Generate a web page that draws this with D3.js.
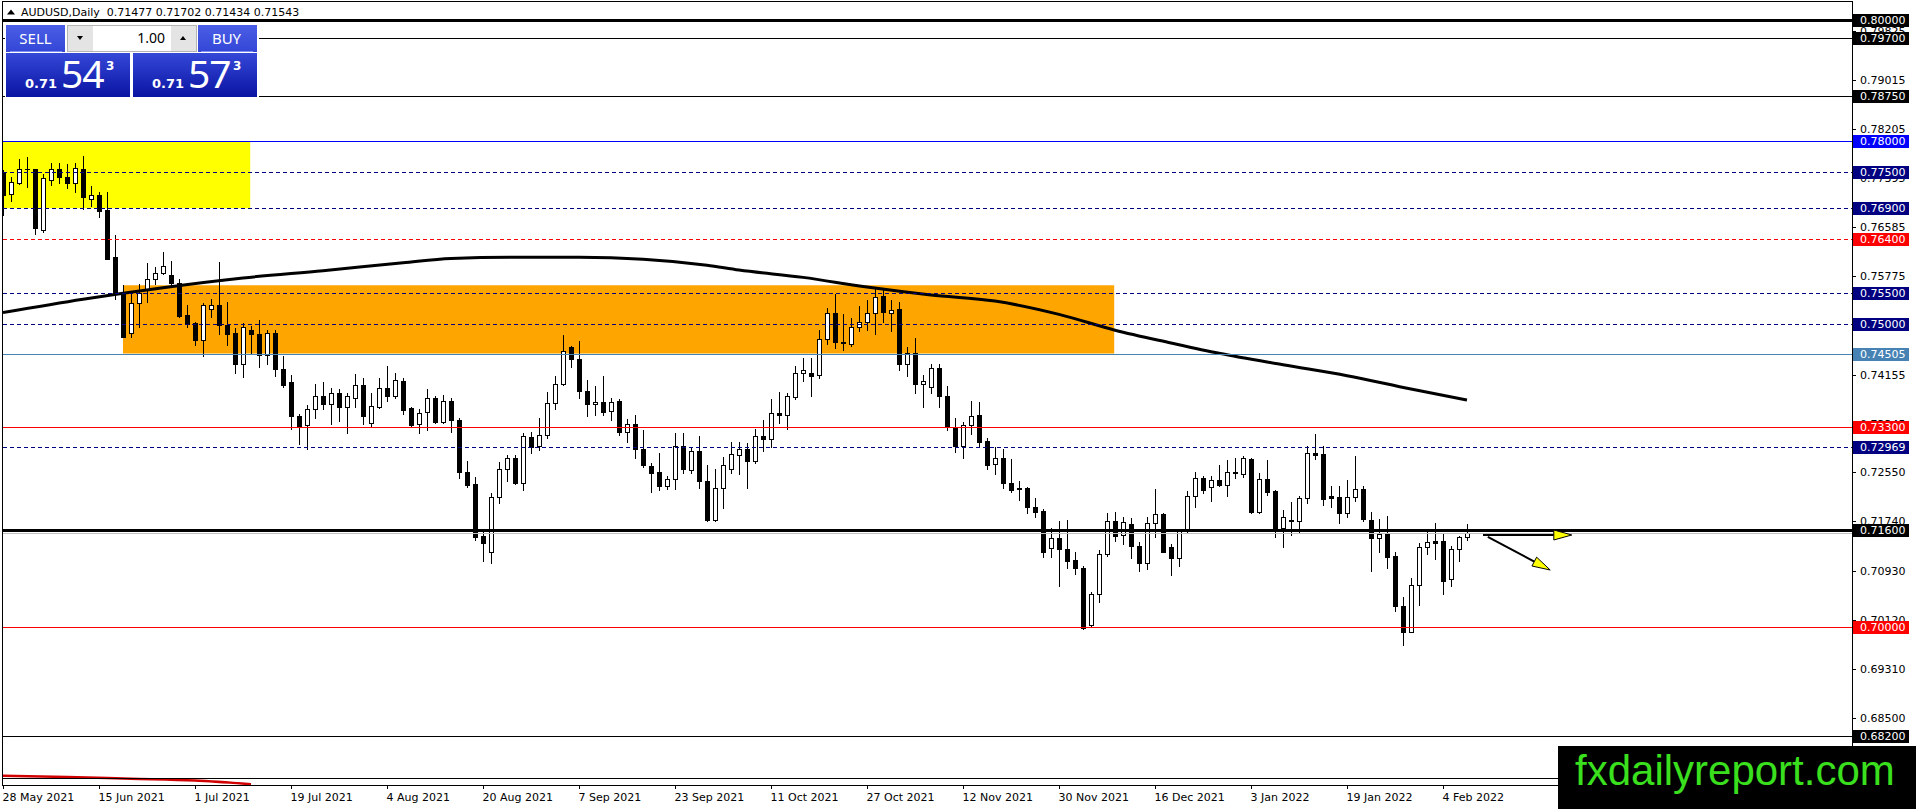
<!DOCTYPE html>
<html>
<head>
<meta charset="utf-8">
<script src="https://cdnjs.cloudflare.com/ajax/libs/d3/7.8.5/d3.min.js"></script>
<style>
  html, body { margin: 0; padding: 0; background: #fff; }
  svg { display: block; }
  text { font-family: "DejaVu Sans", sans-serif; }
</style>
</head>
<body>
<svg id="chart" width="1916" height="809"></svg>
<script>
// ---- data ----
var symbolTitle = "AUDUSD,Daily  0.71477 0.71702 0.71434 0.71543";

// daily bars, weekdays from 28 May 2021 to 9 Feb 2022 (index = bar number)
var opens = [0.7750,0.7713,0.7732,0.7754,0.7754,0.7654,0.7736,0.7754,0.7742,0.7731,
  0.7754,0.7705,0.7712,0.7687,0.7609,0.7552,0.7484,0.7534,0.7555,0.7574,
  0.7583,0.7580,0.7567,0.7514,0.7501,0.7472,0.7524,0.7531,0.7498,0.7484,
  0.7433,0.7489,0.7482,0.7448,0.7484,0.7425,0.7403,0.7348,0.7332,0.7359,
  0.7381,0.7367,0.7385,0.7363,0.7378,0.7399,0.7336,0.7363,0.7393,0.7381,
  0.7405,0.7360,0.7334,0.7354,0.7377,0.7338,0.7372,0.7341,0.7256,0.7236,
  0.7150,0.7123,0.7214,0.7260,0.7278,0.7238,0.7313,0.7298,0.7316,0.7369,
  0.7401,0.7461,0.7441,0.7389,0.7367,0.7370,0.7356,0.7372,0.7322,0.7335,
  0.7293,0.7265,0.7255,0.7233,0.7244,0.7298,0.7258,0.7290,0.7241,0.7177,
  0.7229,0.7261,0.7283,0.7293,0.7274,0.7315,0.7309,0.7352,0.7350,0.7379,
  0.7418,0.7418,0.7415,0.7474,0.7518,0.7470,0.7467,0.7494,0.7503,0.7518,
  0.7545,0.7517,0.7524,0.7433,0.7451,0.7401,0.7395,0.7426,0.7380,0.7330,
  0.7298,0.7333,0.7349,0.7307,0.7268,0.7278,0.7237,0.7229,0.7229,0.7198,
  0.7191,0.7130,0.7146,0.7128,0.7110,0.7097,0.7003,0.7054,0.7120,0.7175,
  0.7151,0.7169,0.7134,0.7106,0.7171,0.7186,0.7132,0.7113,0.7158,0.7216,
  0.7245,0.7230,0.7242,0.7234,0.7255,0.7252,0.7277,0.7190,0.7243,0.7224,
  0.7163,0.7176,0.7175,0.7212,0.7286,0.7285,0.7215,0.7214,0.7187,0.7214,
  0.7228,0.7176,0.7146,0.7154,0.7117,0.7035,0.6992,0.7070,0.7131,0.7141,
  0.7142,0.7079,0.7128,0.71477];
var highs = [0.7753,0.7742,0.7771,0.7775,0.7754,0.7747,0.7765,0.7764,0.7763,0.7764,
  0.7776,0.7727,0.7717,0.7717,0.7646,0.7563,0.7549,0.7565,0.7599,0.7593,
  0.7617,0.7603,0.7573,0.7531,0.7503,0.7533,0.7540,0.7601,0.7536,0.7492,
  0.7501,0.7496,0.7505,0.7489,0.7490,0.7447,0.7415,0.7351,0.7366,0.7400,
  0.7403,0.7393,0.7392,0.7385,0.7416,0.7410,0.7385,0.7411,0.7430,0.7418,
  0.7410,0.7363,0.7359,0.7392,0.7381,0.7383,0.7377,0.7344,0.7274,0.7247,
  0.7157,0.7221,0.7272,0.7283,0.7283,0.7320,0.7321,0.7344,0.7387,0.7414,
  0.7481,0.7463,0.7471,0.7407,0.7397,0.7414,0.7378,0.7375,0.7342,0.7350,
  0.7325,0.7271,0.7286,0.7248,0.7319,0.7319,0.7297,0.7315,0.7267,0.7260,
  0.7280,0.7305,0.7305,0.7303,0.7327,0.7341,0.7375,0.7387,0.7386,0.7430,
  0.7443,0.7443,0.7489,0.7526,0.7548,0.7515,0.7509,0.7529,0.7539,0.7558,
  0.7558,0.7539,0.7536,0.7462,0.7476,0.7415,0.7434,0.7434,0.7397,0.7344,
  0.7338,0.7373,0.7370,0.7311,0.7297,0.7294,0.7276,0.7241,0.7231,0.7212,
  0.7194,0.7163,0.7175,0.7176,0.7123,0.7101,0.7057,0.7127,0.7187,0.7190,
  0.7181,0.7179,0.7140,0.7182,0.7227,0.7187,0.7136,0.7160,0.7224,0.7256,
  0.7249,0.7249,0.7267,0.7275,0.7278,0.7282,0.7278,0.7253,0.7275,0.7226,
  0.7192,0.7206,0.7216,0.7298,0.7318,0.7298,0.7232,0.7232,0.7242,0.7281,
  0.7233,0.7190,0.7178,0.7183,0.7124,0.7049,0.7080,0.7138,0.7158,0.7171,
  0.7155,0.7134,0.7150,0.71702];
var lows = [0.7679,0.7701,0.7730,0.7725,0.7647,0.7651,0.7728,0.7732,0.7724,0.7717,
  0.7688,0.7694,0.7675,0.7606,0.7541,0.7477,0.7478,0.7495,0.7536,0.7565,
  0.7582,0.7561,0.7510,0.7495,0.7464,0.7447,0.7511,0.7483,0.7465,0.7418,
  0.7412,0.7451,0.7429,0.7434,0.7413,0.7396,0.7326,0.7302,0.7293,0.7344,
  0.7359,0.7334,0.7340,0.7320,0.7362,0.7335,0.7331,0.7360,0.7373,0.7377,
  0.7351,0.7330,0.7319,0.7325,0.7336,0.7336,0.7322,0.7246,0.7231,0.7143,
  0.7109,0.7106,0.7204,0.7240,0.7236,0.7225,0.7287,0.7291,0.7311,0.7359,
  0.7398,0.7429,0.7378,0.7348,0.7350,0.7350,0.7341,0.7316,0.7304,0.7278,
  0.7263,0.7223,0.7225,0.7227,0.7227,0.7253,0.7253,0.7229,0.7174,0.7175,
  0.7196,0.7254,0.7252,0.7229,0.7271,0.7290,0.7296,0.7336,0.7327,0.7375,
  0.7406,0.7381,0.7410,0.7467,0.7460,0.7456,0.7463,0.7487,0.7489,0.7482,
  0.7503,0.7488,0.7423,0.7413,0.7386,0.7363,0.7386,0.7363,0.7324,0.7289,
  0.7279,0.7318,0.7296,0.7261,0.7252,0.7229,0.7223,0.7210,0.7187,0.7182,
  0.7116,0.7116,0.7067,0.7098,0.7088,0.6996,0.7002,0.7042,0.7117,0.7141,
  0.7136,0.7114,0.7093,0.7095,0.7149,0.7124,0.7086,0.7101,0.7155,0.7198,
  0.7221,0.7208,0.7232,0.7216,0.7246,0.7247,0.7187,0.7188,0.7217,0.7149,
  0.7132,0.7152,0.7157,0.7204,0.7276,0.7201,0.7198,0.7172,0.7181,0.7208,
  0.7174,0.7093,0.7124,0.7098,0.7027,0.6970,0.6991,0.7036,0.7120,0.7112,
  0.7054,0.7068,0.7109,0.71434];
var closes = [0.7712,0.7733,0.7754,0.7754,0.7657,0.7739,0.7754,0.7742,0.7731,0.7756,
  0.7708,0.7712,0.7686,0.7607,0.7549,0.7478,0.7534,0.7551,0.7574,0.7583,
  0.7595,0.7567,0.7512,0.7500,0.7472,0.7531,0.7531,0.7497,0.7483,0.7433,
  0.7494,0.7482,0.7448,0.7484,0.7425,0.7399,0.7347,0.7331,0.7359,0.7381,
  0.7367,0.7385,0.7363,0.7380,0.7399,0.7347,0.7364,0.7393,0.7381,0.7407,
  0.7357,0.7332,0.7352,0.7377,0.7338,0.7373,0.7341,0.7256,0.7234,0.7149,
  0.7139,0.7214,0.7260,0.7278,0.7238,0.7315,0.7297,0.7317,0.7369,0.7401,
  0.7454,0.7441,0.7388,0.7367,0.7370,0.7354,0.7371,0.7322,0.7334,0.7293,
  0.7267,0.7254,0.7233,0.7243,0.7298,0.7260,0.7290,0.7240,0.7176,0.7229,
  0.7267,0.7285,0.7293,0.7274,0.7315,0.7309,0.7352,0.7350,0.7381,0.7418,
  0.7423,0.7414,0.7474,0.7518,0.7469,0.7468,0.7494,0.7503,0.7518,0.7544,
  0.7519,0.7523,0.7433,0.7451,0.7401,0.7405,0.7426,0.7381,0.7330,0.7298,
  0.7333,0.7348,0.7305,0.7267,0.7278,0.7237,0.7226,0.7227,0.7198,0.7190,
  0.7124,0.7146,0.7128,0.7108,0.7097,0.6999,0.7054,0.7121,0.7175,0.7150,
  0.7173,0.7134,0.7106,0.7171,0.7186,0.7124,0.7113,0.7158,0.7216,0.7245,
  0.7225,0.7242,0.7234,0.7255,0.7253,0.7278,0.7190,0.7243,0.7223,0.7163,
  0.7182,0.7175,0.7212,0.7286,0.7284,0.7211,0.7213,0.7187,0.7214,0.7228,
  0.7178,0.7146,0.7154,0.7116,0.7035,0.6992,0.7070,0.7132,0.7140,0.7139,
  0.7076,0.7128,0.7148,0.71543];

// moving average, read at a few bars
var maBars   = [0, 10, 20, 30, 40, 50, 56, 64, 72, 80, 88, 92, 100, 108, 116, 124, 132, 139, 146, 152, 160, 168, 176, 183];
var maValues = [0.7518,0.7540,0.7559,0.7575,0.7587,0.7600,0.7607,0.7609,0.7609,0.7606,0.7596,0.7588,
                0.7576,0.7560,0.7547,0.7537,0.7515,0.7489,0.7468,0.7451,0.7432,0.7414,0.7392,0.7374];

// red line at the bottom edge
var redBars   = [0, 8, 16, 24, 31];
var redValues = [0.6755, 0.6753, 0.6750, 0.6747, 0.6741];

// horizontal levels
var levelPrices = [0.80000, 0.79700, 0.78750, 0.78000, 0.77500, 0.76900, 0.76400, 0.75500, 0.75000, 0.74505, 0.73300, 0.72969, 0.71600, 0.70000, 0.68200, 0.67510];
var levelColors = ["#000","#000","#000","#0000ff","#000080","#000080","#ff0000","#000080","#000080","#4682b4","#ff0000","#000080","#000","#ff0000","#000","#000"];
var levelDashed = [false,false,false,false,true,true,true,true,true,false,false,true,false,false,false,false];
var levelWidths = [3,1,1,1,1,1,1,1,1,1,1,1,3,1,1,1];
var levelLabel  = [true,true,true,true,true,true,true,true,true,true,true,true,true,true,true,false];
var bidPrice = 0.71543;

// price axis ticks
var axisTicks = [0.79825, 0.79015, 0.78205, 0.77395, 0.76585, 0.75775, 0.74965, 0.74155, 0.73345, 0.72550, 0.71740, 0.70930, 0.70120, 0.69310, 0.68500];

// time axis
var dateBars   = [0, 12, 24, 36, 48, 60, 72, 84, 96, 108, 120, 132, 144, 156, 168, 180];
var dateLabels = ["28 May 2021","15 Jun 2021","1 Jul 2021","19 Jul 2021","4 Aug 2021","20 Aug 2021","7 Sep 2021","23 Sep 2021",
                  "11 Oct 2021","27 Oct 2021","12 Nov 2021","30 Nov 2021","16 Dec 2021","3 Jan 2022","19 Jan 2022","4 Feb 2022"];

// zones [barFrom, barTo, priceTop, priceBottom]
var yellowZone = [-1, 30.9, 0.78000, 0.76900];
var orangeZone = [15, 138.9, 0.75630, 0.74505];

// arrows [barFrom, priceFrom, barTo, priceTo]
var arrows = [[185, 0.71516, 196.1, 0.71516], [185.6, 0.71483, 193.4, 0.70939]];

var sellPrice = ["0.71", "54", "3"];
var buyPrice  = ["0.71", "57", "3"];
var lotSize = "1.00";

// ---- drawing ----
var W = 1916, H = 809;
var plotL = 3, plotR = 1852, plotT = 2, plotB = 785;

var x = d3.scaleLinear().domain([0, 183]).range([3, 1467]);
var y = d3.scaleLinear().domain([0.70, 0.80]).range([627, 20]);

var svg = d3.select("#chart");
var defs = svg.append("defs");
defs.append("clipPath").attr("id", "plot")
  .append("rect").attr("x", plotL).attr("y", plotT).attr("width", plotR - plotL).attr("height", plotB - plotT);

var g = svg.append("g").attr("clip-path", "url(#plot)");

// zones
[[yellowZone, "#ffff00"], [orangeZone, "#ffa500"]].forEach(function (z) {
  var d = z[0];
  g.append("rect")
    .attr("x", x(d[0])).attr("width", x(d[1]) - x(d[0]))
    .attr("y", y(d[2])).attr("height", y(d[3]) - y(d[2]))
    .attr("fill", z[1]);
});

var bars = d3.range(opens.length);

// candles
var cg = g.append("g").attr("shape-rendering", "crispEdges");
bars.forEach(function (i) {
  var cx = Math.round(x(i)) + 0.5;
  var o = opens[i], c = closes[i];
  cg.append("line")
    .attr("x1", cx).attr("x2", cx)
    .attr("y1", Math.round(y(highs[i]))).attr("y2", Math.round(y(lows[i])) + 1)
    .attr("stroke", "#000");
  var yt = Math.round(y(Math.max(o, c))) + 0.5;
  var yb = Math.round(y(Math.min(o, c))) + 0.5;
  if (yb - yt < 1) {
    cg.append("line").attr("x1", cx - 2.5).attr("x2", cx + 2.5).attr("y1", yt).attr("y2", yt).attr("stroke", "#000");
  } else {
    cg.append("rect")
      .attr("x", cx - 2).attr("width", 4)
      .attr("y", yt).attr("height", yb - yt)
      .attr("fill", c >= o ? "#fff" : "#000")
      .attr("stroke", "#000");
  }
});

// moving average
var ma = d3.line().x(function (d) { return x(d[0]); }).y(function (d) { return y(d[1]); }).curve(d3.curveMonotoneX);
g.append("path").datum(d3.zip(maBars, maValues)).attr("d", ma)
  .attr("fill", "none").attr("stroke", "#000").attr("stroke-width", 3);

g.append("path").datum(d3.zip(redBars, redValues)).attr("d", ma)
  .attr("fill", "none").attr("stroke", "#d00000").attr("stroke-width", 2.5);

// levels
var lg = g.append("g").attr("shape-rendering", "crispEdges");
lg.append("line").attr("x1", plotL).attr("x2", plotR)
  .attr("y1", Math.round(y(bidPrice)) + 0.5).attr("y2", Math.round(y(bidPrice)) + 0.5)
  .attr("stroke", "#c0c0c0");
levelPrices.forEach(function (p, i) {
  var yy = Math.round(y(p)) + 0.5;
  lg.append("line").attr("x1", plotL).attr("x2", plotR).attr("y1", yy).attr("y2", yy)
    .attr("stroke", levelColors[i]).attr("stroke-width", levelWidths[i])
    .attr("stroke-dasharray", levelDashed[i] ? "4,3" : null);
});

// arrows
arrows.forEach(function (a) {
  var x1 = x(a[0]), y1 = y(a[1]), x2 = x(a[2]), y2 = y(a[3]);
  var dx = x2 - x1, dy = y2 - y1, len = Math.sqrt(dx * dx + dy * dy);
  var ux = dx / len, uy = dy / len, L = 18, hw = 5;
  var bx = x2 - ux * L, by = y2 - uy * L;
  g.append("line").attr("x1", x1).attr("y1", y1).attr("x2", bx).attr("y2", by)
    .attr("stroke", "#000").attr("stroke-width", 2);
  g.append("path")
    .attr("d", "M" + x2 + "," + y2 + "L" + (bx - uy * hw) + "," + (by + ux * hw) + "L" + (bx + uy * hw) + "," + (by - ux * hw) + "Z")
    .attr("fill", "#ffff00").attr("stroke", "#000").attr("stroke-width", 1);
});

// frame
svg.append("rect").attr("x", plotL - 0.5).attr("y", plotT - 0.5).attr("width", plotR - plotL + 1).attr("height", plotB - plotT + 1)
  .attr("fill", "none").attr("stroke", "#000").attr("shape-rendering", "crispEdges");

// price axis
var ag = svg.append("g");
axisTicks.forEach(function (p) {
  var yy = Math.round(y(p)) + 0.5;
  ag.append("line").attr("x1", plotR).attr("x2", plotR + 4).attr("y1", yy).attr("y2", yy)
    .attr("stroke", "#000").attr("shape-rendering", "crispEdges");
  ag.append("text").attr("x", 1860).attr("y", yy).attr("dy", "0.36em")
    .attr("font-size", 11).attr("fill", "#000").text(p.toFixed(5));
});
levelPrices.forEach(function (p, i) {
  if (!levelLabel[i]) return;
  var yy = Math.round(y(p));
  ag.append("rect").attr("x", 1853).attr("y", yy - 6).attr("width", 56).attr("height", 13)
    .attr("fill", levelColors[i]);
  ag.append("text").attr("x", 1860).attr("y", yy + 0.5).attr("dy", "0.36em")
    .attr("font-size", 11).attr("fill", "#fff").text(p.toFixed(5));
});

// time axis
dateBars.forEach(function (b, i) {
  var xx = Math.round(x(b)) + 0.5;
  svg.append("line").attr("x1", xx).attr("x2", xx).attr("y1", plotB).attr("y2", plotB + 4)
    .attr("stroke", "#000").attr("shape-rendering", "crispEdges");
  svg.append("text").attr("x", xx - 1).attr("y", 801).attr("font-size", 11).attr("fill", "#000").text(dateLabels[i]);
});

// title
svg.append("path").attr("d", "M7,14.5L11,9.5L15,14.5Z").attr("fill", "#000");
svg.append("text").attr("x", 21).attr("y", 16).attr("font-size", 11).attr("fill", "#000")
  .attr("xml:space", "preserve").text(symbolTitle);

// one-click trading panel
var grad = defs.append("linearGradient").attr("id", "pbox").attr("x1", 0).attr("x2", 0).attr("y1", 0).attr("y2", 1);
grad.append("stop").attr("offset", "0%").attr("stop-color", "#3548d8");
grad.append("stop").attr("offset", "100%").attr("stop-color", "#0a14a2");
var grad2 = defs.append("linearGradient").attr("id", "pbtn").attr("x1", 0).attr("x2", 0).attr("y1", 0).attr("y2", 1);
grad2.append("stop").attr("offset", "0%").attr("stop-color", "#4a5ee6");
grad2.append("stop").attr("offset", "100%").attr("stop-color", "#3346d6");

var pg = svg.append("g");
pg.append("rect").attr("x", 5).attr("y", 23).attr("width", 254).attr("height", 75).attr("fill", "#fff");
pg.append("rect").attr("x", 6).attr("y", 25).attr("width", 59).attr("height", 27).attr("fill", "url(#pbtn)");
pg.append("rect").attr("x", 198).attr("y", 25).attr("width", 59).attr("height", 27).attr("fill", "url(#pbtn)");
pg.append("line").attr("x1", 10).attr("x2", 62).attr("y1", 51.5).attr("y2", 51.5).attr("stroke", "#8090f0");
pg.append("line").attr("x1", 201).attr("x2", 253).attr("y1", 51.5).attr("y2", 51.5).attr("stroke", "#8090f0");
pg.append("text").attr("x", 35.5).attr("y", 44).attr("text-anchor", "middle").attr("font-size", 15).attr("fill", "#fff")
  .style("font-family", "'Noto Sans', sans-serif").text("SELL");
pg.append("text").attr("x", 226.5).attr("y", 44).attr("text-anchor", "middle").attr("font-size", 15).attr("fill", "#fff")
  .style("font-family", "'Noto Sans', sans-serif").text("BUY");
// lot spinner
pg.append("rect").attr("x", 67.5).attr("y", 25.5).attr("width", 129).attr("height", 26).attr("fill", "#fff").attr("stroke", "#b4b4b4");
pg.append("rect").attr("x", 68).attr("y", 26).attr("width", 25).attr("height", 25).attr("fill", "#e4e4e4");
pg.append("rect").attr("x", 171).attr("y", 26).attr("width", 25).attr("height", 25).attr("fill", "#e4e4e4");
pg.append("path").attr("d", "M77,36L83,36L80,40Z").attr("fill", "#000");
pg.append("path").attr("d", "M180,40L186,40L183,36Z").attr("fill", "#000");
pg.append("text").attr("x", 165).attr("y", 43).attr("text-anchor", "end").attr("font-size", 14).attr("fill", "#000")
  .style("font-family", "'Noto Sans', sans-serif").text(lotSize);
// price boxes
[[6, sellPrice], [133, buyPrice]].forEach(function (b) {
  var bx = b[0], pr = b[1];
  pg.append("rect").attr("x", bx).attr("y", 53).attr("width", 124).attr("height", 44).attr("fill", "url(#pbox)");
  pg.append("text").attr("x", bx + 19).attr("y", 88).attr("font-size", 13).attr("font-weight", "bold").attr("fill", "#fff").text(pr[0]);
  pg.append("text").attr("x", bx + 55).attr("y", 88).attr("font-size", 39).attr("fill", "#fff")
    .style("font-family", "'Noto Sans', sans-serif").attr("letter-spacing", -1).text(pr[1]);
  pg.append("text").attr("x", bx + 100).attr("y", 70).attr("font-size", 12).attr("font-weight", "bold").attr("fill", "#fff").text(pr[2]);
});

// watermark banner
svg.append("rect").attr("x", 1558).attr("y", 746).attr("width", W - 1558).attr("height", H - 746).attr("fill", "#000");
svg.append("text").attr("x", 1575).attr("y", 785).attr("font-size", 42).attr("fill", "#3ae01e")
  .style("font-family", "'Liberation Sans', Arial, sans-serif").text("fxdailyreport.com");
</script>
</body>
</html>
